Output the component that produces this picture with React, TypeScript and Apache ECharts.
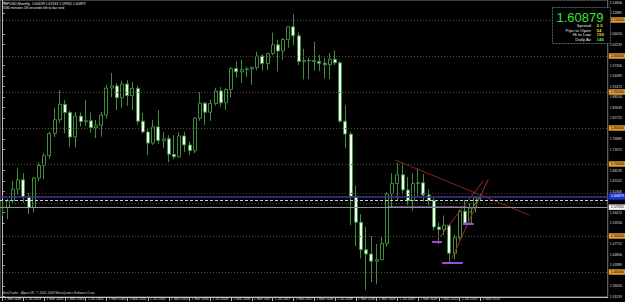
import React, { useEffect, useRef } from 'react';
import * as echarts from 'echarts';

// Monthly GBPUSD bars (Mar 2003 .. Nov 2010)
const dates = [
  '1 Mar 2003','1 Apr 2003','1 May 2003','1 Jun 2003','1 Jul 2003','1 Aug 2003','1 Sep 2003','1 Oct 2003','1 Nov 2003','1 Dec 2003',
  '1 Jan 2004','1 Feb 2004','1 Mar 2004','1 Apr 2004','1 May 2004','1 Jun 2004','1 Jul 2004','1 Aug 2004','1 Sep 2004','1 Oct 2004','1 Nov 2004','1 Dec 2004',
  '1 Jan 2005','1 Feb 2005','1 Mar 2005','1 Apr 2005','1 May 2005','1 Jun 2005','1 Jul 2005','1 Aug 2005','1 Sep 2005','1 Oct 2005','1 Nov 2005','1 Dec 2005',
  '1 Jan 2006','1 Feb 2006','1 Mar 2006','1 Apr 2006','1 May 2006','1 Jun 2006','1 Jul 2006','1 Aug 2006','1 Sep 2006','1 Oct 2006','1 Nov 2006','1 Dec 2006',
  '1 Jan 2007','1 Feb 2007','1 Mar 2007','1 Apr 2007','1 May 2007','1 Jun 2007','1 Jul 2007','1 Aug 2007','1 Sep 2007','1 Oct 2007','1 Nov 2007','1 Dec 2007',
  '1 Jan 2008','1 Feb 2008','1 Mar 2008','1 Apr 2008','1 May 2008','1 Jun 2008','1 Jul 2008','1 Aug 2008','1 Sep 2008','1 Oct 2008','1 Nov 2008','1 Dec 2008',
  '1 Jan 2009','1 Feb 2009','1 Mar 2009','1 Apr 2009','1 May 2009','1 Jun 2009','1 Jul 2009','1 Aug 2009','1 Sep 2009','1 Oct 2009','1 Nov 2009','1 Dec 2009',
  '1 Jan 2010','1 Feb 2010','1 Mar 2010','1 Apr 2010','1 May 2010','1 Jun 2010','1 Jul 2010','1 Aug 2010','1 Sep 2010','1 Oct 2010','1 Nov 2010',
];
const opens = [
  1.5790,1.5800,1.5980,1.6300,1.6560,1.6080,1.5790,1.6610,1.6960,1.7230,
  1.7850,1.8230,1.8660,1.8430,1.7750,1.8330,1.8180,1.8200,1.8010,1.8080,1.8360,1.9110,
  1.9170,1.8840,1.9220,1.8900,1.9100,1.8190,1.7890,1.7580,1.8030,1.7650,1.7700,1.7270,
  1.7200,1.7780,1.7530,1.7370,1.8270,1.8690,1.8440,1.8680,1.9030,1.8700,1.9070,1.9650,
  1.9560,1.9620,1.9640,1.9680,2.0000,1.9790,2.0070,2.0310,2.0140,2.0460,2.0810,2.0560,
  1.9850,1.9880,1.9870,1.9850,1.9800,1.9760,1.9910,1.9810,1.8190,1.7830,1.6100,1.5380,
  1.4620,1.4500,1.4300,1.4340,1.4790,1.6170,1.6460,1.6700,1.6280,1.5980,1.6460,1.6480,
  1.6140,1.5980,1.5250,1.5180,1.5300,1.4520,1.4950,1.5690,1.5360,1.5780,1.60639,
];
const highs = [
  1.6000,1.6030,1.6530,1.6900,1.6750,1.6200,1.6640,1.7050,1.7300,1.7890,
  1.8560,1.9050,1.8780,1.8480,1.8450,1.8430,1.8780,1.8430,1.8220,1.8440,1.9200,1.9530,
  1.9250,1.9320,1.9330,1.9280,1.9170,1.8420,1.8000,1.8230,1.8500,1.7890,1.7800,1.7800,
  1.7880,1.7890,1.7620,1.8300,1.9000,1.8720,1.8780,1.9120,1.9140,1.9100,1.9700,1.9850,
  1.9890,1.9700,1.9700,2.0120,2.0050,2.0080,2.0650,2.0450,2.0500,2.0830,2.1161,2.0650,
  2.0200,1.9950,2.0400,2.0030,1.9950,2.0080,2.0160,1.9850,1.8630,1.7900,1.6400,1.5610,
  1.5250,1.5000,1.4780,1.5000,1.6220,1.6750,1.7040,1.7040,1.6640,1.6740,1.6880,1.6720,
  1.6300,1.6050,1.5380,1.5570,1.5300,1.5030,1.5730,1.6000,1.5920,1.6100,1.61533,
];
const lows = [
  1.5550,1.5470,1.5920,1.6150,1.5920,1.5610,1.5650,1.6520,1.6580,1.7150,
  1.7750,1.8150,1.7850,1.7480,1.7460,1.8040,1.8050,1.7870,1.7720,1.7760,1.8260,1.8860,
  1.8500,1.8560,1.8620,1.8500,1.8100,1.7850,1.7250,1.7530,1.7560,1.7440,1.7050,1.7130,
  1.7190,1.7330,1.7250,1.7300,1.8200,1.8080,1.8200,1.8620,1.8600,1.8500,1.8850,1.9400,
  1.9250,1.9420,1.9200,1.9600,1.9600,1.9610,2.0020,1.9570,1.9900,2.0230,2.0300,1.9750,
  1.9350,1.9360,1.9600,1.9580,1.9370,1.9360,1.9740,1.8150,1.7440,1.5300,1.4720,1.4380,
  1.3503,1.3720,1.3660,1.4340,1.4700,1.5800,1.6000,1.6150,1.5860,1.5710,1.6100,1.5950,
  1.5860,1.5150,1.4780,1.5020,1.4250,1.4350,1.4900,1.5310,1.5300,1.5650,1.59932,
];
const closes = [
  1.5800,1.5980,1.6300,1.6560,1.6080,1.5790,1.6610,1.6960,1.7230,1.7850,
  1.8230,1.8660,1.8430,1.7750,1.8330,1.8180,1.8200,1.8010,1.8080,1.8360,1.9110,1.9170,
  1.8840,1.9220,1.8900,1.9100,1.8190,1.7890,1.7580,1.8030,1.7650,1.7700,1.7270,1.7200,
  1.7780,1.7530,1.7370,1.8270,1.8690,1.8440,1.8680,1.9030,1.8700,1.9070,1.9650,1.9560,
  1.9620,1.9640,1.9680,2.0000,1.9790,2.0070,2.0310,2.0140,2.0460,2.0810,2.0560,1.9850,
  1.9880,1.9870,1.9850,1.9800,1.9760,1.9910,1.9810,1.8190,1.7830,1.6100,1.5380,1.4620,
  1.4500,1.4300,1.4340,1.4790,1.6170,1.6460,1.6700,1.6280,1.5980,1.6460,1.6480,1.6140,
  1.5980,1.5250,1.5180,1.5300,1.4520,1.4950,1.5690,1.5360,1.5780,1.60639,1.60879,
];
const emptyShiftBars = 24; // chart shift (empty space right of the last bar)

// visible price-scale labels (those hidden under the line tags are left out)
const priceTicks = [
  2.14806,2.11889,2.06056,2.03139,1.97306,1.94389,1.91472,1.88556,
  1.85639,1.82722,1.76889,1.73972,1.68139,1.65222,1.62306,
  1.56472,1.53556,1.47722,1.44806,1.41889,1.36056,1.33139,
];
const levelPrices = [2.1, 2.0, 1.9, 1.8, 1.7, 1.5, 1.4];
const bidPrice = 1.60879;
const redLevels = [1.6194, 1.6139];
const whiteDashedLevel = 1.6;
const greenDottedLevel = 1.5944;
const grayLevel = 1.5792;

// drawn objects (bar index, price)
const trendDown = [[75.6, 1.711], [101.4, 1.558]];
const trendUpA = [[86.5, 1.438], [93.5, 1.6575]];
const trendUpB = [[84.25, 1.498], [92.55, 1.6536]];
const trendGreen = [[89.9, 1.5639], [91.8, 1.6083]];
const lowMarks = [
  [[82.7, 1.4833], [84.6, 1.4833]],
  [[84.6, 1.425], [88.6, 1.425]],
  [[88.6, 1.5333], [90.7, 1.5333]],
];
const violetLevel = [[74.1, 1.5806], [89.4, 1.5806]];

const headerLine1 = 'GBPUSD,Monthly  1.60639 1.61533 1.59932 1.60879';
const headerLine2 = '2584 minutes 18 seconds left to bar end';
const footer = 'MetaTrader - Alpari UK, \u00a9 2001-2009 MetaQuotes Software Corp.';
const infoRows = [
  { label: 'Spread', value: '2.5', color: '#f2d21c' },
  { label: 'Pips to Open', value: '54', color: '#c8e02a' },
  { label: 'Hi to Low', value: '150', color: '#f2d21c' },
  { label: 'Daily Av', value: '146', color: '#5ee05e' },
];

const FONT = '"Liberation Sans", Arial, sans-serif';

export default function App() {
  const ref = useRef<HTMLDivElement>(null);
  useEffect(() => {
    if (!ref.current) return;
    const chart = echarts.init(ref.current, undefined, { renderer: 'svg' });
    const cats = dates.concat(Array.from({ length: emptyShiftBars }, (_, i) => '+' + i));
    const total = cats.length;
    const candles = dates.map((_, i) => [opens[i], closes[i], lows[i], highs[i]]);
    const showLabel = (idx: number) => idx % 4 === 0 && idx < dates.length;

    const lineSeries = (data: number[][], color: string, width = 1, type: any = 'solid') => ({
      type: 'line', xAxisIndex: 1, yAxisIndex: 0, data, symbol: 'none', silent: true,
      lineStyle: { color, width, type }, z: 4, clip: false, animation: false,
    });

    const tagLabel = (text: string, bg: string, fg: string) => ({
      show: true, position: 'end', formatter: text, backgroundColor: bg, color: fg,
      fontSize: 3.6, fontFamily: FONT, padding: [1, 3, 0.5, 2], distance: 1,
    });

    const markData: any[] = [
      ...levelPrices.map((p) => ({ yAxis: p, lineStyle: { color: '#5e4c3a', type: [1, 2], width: 1 }, label: tagLabel(p.toFixed(5), '#e39b32', '#000') })),
      ...redLevels.map((p, i) => ({ yAxis: p, lineStyle: { color: i === 0 ? '#6e2424' : '#52203f', type: [1, 2], width: 1 }, label: { show: false } })),
      { yAxis: whiteDashedLevel, lineStyle: { color: '#d0d0d0', type: [3, 2], width: 1 }, label: { show: false } },
      { yAxis: greenDottedLevel, lineStyle: { color: '#2c5c2c', type: [1, 2], width: 1 }, label: { show: false } },
      { yAxis: grayLevel, lineStyle: { color: '#8f8f8f', type: 'solid', width: 1 }, label: tagLabel(grayLevel.toFixed(5), '#f2f2f2', '#000') },
      { yAxis: bidPrice, lineStyle: { color: '#34349c', type: 'solid', width: 1.5 }, label: { ...tagLabel(bidPrice.toFixed(5), '#1b34d8', '#fff'), padding: [1.5, 3, 1, 2] } },
    ];

    const graphics: any[] = [
      { type: 'text', left: 2, top: 2, style: { text: headerLine1, fill: '#e6e6e6', fontSize: 3.5, fontFamily: FONT } },
      { type: 'text', left: 2, top: 6, style: { text: headerLine2, fill: '#e6e6e6', fontSize: 3.5, fontFamily: FONT } },
      { type: 'text', left: 2, top: 291, style: { text: footer, fill: '#d0d0d0', fontSize: 3.2, fontFamily: FONT } },
      { type: 'rect', shape: { x: 552.5, y: 7.5, width: 58, height: 36 }, style: { fill: '#000', stroke: '#4f6272', lineWidth: 1, lineDash: [2, 1] }, z: 10 },
      { type: 'text', x: 580, y: 17, z: 11, style: { text: bidPrice.toFixed(5), fill: '#32e832', fontSize: 13, fontFamily: FONT, align: 'center', verticalAlign: 'middle', textAlign: 'center', textVerticalAlign: 'middle' } },
      ...infoRows.flatMap((r, i) => [
        { type: 'text', x: 591, y: 25.5 + i * 4.7, z: 11, style: { text: r.label, fill: '#e6e6e6', fontSize: 4.4, fontFamily: FONT, align: 'right', verticalAlign: 'middle', textAlign: 'right', textVerticalAlign: 'middle' } },
        { type: 'text', x: 596.5, y: 25.5 + i * 4.7, z: 11, style: { text: r.value, fill: r.color, fontSize: 4.4, fontWeight: 'bold', fontFamily: FONT, align: 'left', verticalAlign: 'middle', textAlign: 'left', textVerticalAlign: 'middle' } },
      ]),
    ];

    chart.setOption({
      animation: false,
      backgroundColor: '#000',
      grid: { left: 0, right: 13, top: 0, bottom: 5, show: true, borderColor: '#7a7a7a', borderWidth: 1, backgroundColor: '#000' },
      xAxis: [
        {
          type: 'category', data: cats, boundaryGap: true, position: 'bottom',
          axisLine: { show: true, lineStyle: { color: '#bdbdbd', width: 1 } },
          axisTick: { show: true, alignWithLabel: true, interval: (idx: number) => showLabel(idx), length: 4, lineStyle: { color: '#bdbdbd' } },
          axisLabel: { show: true, interval: (idx: number) => showLabel(idx), fontSize: 3.4, color: '#dedede', fontFamily: FONT, align: 'left', margin: 0.5, padding: [0, 0, 0, 2] },
          splitLine: { show: false },
        },
        { type: 'value', min: -0.5, max: total - 0.5, show: false },
      ],
      yAxis: {
        type: 'value', position: 'right', min: 2.1 - 277 / 360, max: 2.1 + 20 / 360, scale: true,
        axisLine: { show: true, lineStyle: { color: '#bdbdbd', width: 1 } },
        axisTick: { show: true, length: 2, customValues: priceTicks, lineStyle: { color: '#bdbdbd' } },
        axisLabel: { show: true, customValues: priceTicks, formatter: (v: number) => v.toFixed(5), fontSize: 3.4, color: '#dedede', fontFamily: FONT, margin: 2 },
        splitLine: { show: false },
      },
      series: [
        {
          type: 'candlestick', data: candles, barWidth: 3.5, clip: false,
          itemStyle: { color: '#000000', borderColor: '#3d8d3d', color0: '#eefbee', borderColor0: '#3d8d3d', borderWidth: 1 },
          markLine: { symbol: ['none', 'none'], silent: true, animation: false, data: markData },
          z: 3,
        },
        lineSeries(violetLevel, '#8f7fc8', 1),
        lineSeries(trendDown, '#8a2222', 1),
        lineSeries(trendUpA, '#a22a2a', 1),
        lineSeries(trendUpB, '#a22a2a', 1),
        lineSeries(trendGreen, '#3d8d3d', 1),
        ...lowMarks.map((m) => lineSeries(m, '#a447dc', 2)),
      ],
      graphic: graphics,
    });
    return () => chart.dispose();
  }, []);
  return <div ref={ref} style={{ position: 'absolute', left: 0, top: 0, width: 625, height: 302, background: '#000' }} />;
}
